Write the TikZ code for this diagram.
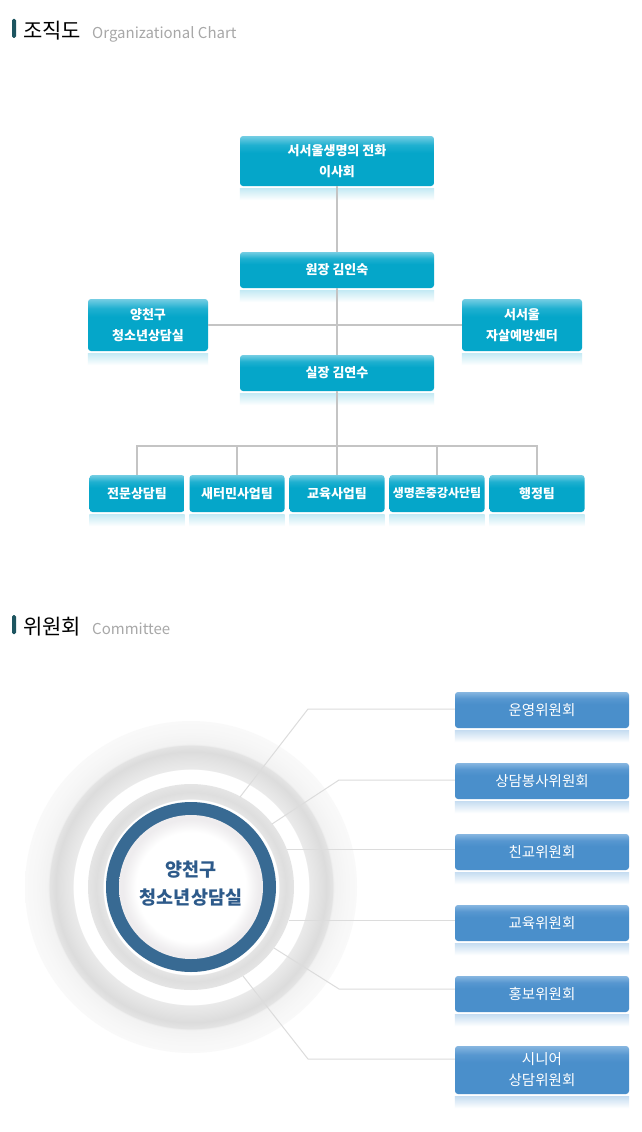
\documentclass[tikz,border=0pt]{standalone}
\usepackage{fontspec}
\setmainfont{Noto Sans CJK KR}
\usetikzlibrary{calc}
\definecolor{orgT}{HTML}{74CDE3}
\definecolor{orgM}{HTML}{1FB0D0}
\definecolor{orgB}{HTML}{05A6C9}
\definecolor{orgR}{HTML}{C4EAF4}
\definecolor{comT}{HTML}{86B6E0}
\definecolor{comM}{HTML}{5797D0}
\definecolor{comB}{HTML}{4A8FCB}
\definecolor{comR}{HTML}{C6DDF1}
\definecolor{lineC}{HTML}{C4C4C4}
\definecolor{connC}{HTML}{DCDCDC}
\definecolor{barC}{HTML}{1D5560}
\definecolor{engC}{HTML}{A8A8A8}
\definecolor{blueRing}{HTML}{386A93}
\definecolor{ctextC}{HTML}{2D5A8A}
\definecolor{gA}{HTML}{F9F9F9}
\definecolor{gB}{HTML}{F7F7F7}
\definecolor{gC}{HTML}{F2F2F2}
\definecolor{gD}{HTML}{E4E4E4}
\definecolor{gE}{HTML}{DCDCDC}
\definecolor{gF}{HTML}{EAEAEA}
\definecolor{gG}{HTML}{DEDEDE}
\definecolor{gH}{HTML}{E5E5E5}
\definecolor{gI}{HTML}{EEECEE}
\definecolor{gJ}{HTML}{F4F3F4}
\pgfdeclareverticalshading{orgsh}{100bp}{color(0bp)=(orgB); color(25bp)=(orgB); color(58bp)=(orgB); color(66bp)=(orgM); color(75bp)=(orgT); color(100bp)=(orgT)}
\pgfdeclareverticalshading{comsh}{100bp}{color(0bp)=(comB); color(25bp)=(comB); color(58bp)=(comB); color(66bp)=(comM); color(75bp)=(comT); color(100bp)=(comT)}
% radial shadings: 25bp = radius of the shaded circle
\pgfdeclareradialshading{outerSh}{\pgfpoint{0bp}{0bp}}{color(0bp)=(white); color(17.7bp)=(white); color(17.8bp)=(gF); color(19bp)=(gD); color(20.4bp)=(gE); color(21.35bp)=(gD); color(21.5bp)=(gC); color(23.5bp)=(gB); color(25bp)=(gA); color(50bp)=(gA)}
\pgfdeclareradialshading{midSh}{\pgfpoint{0bp}{0bp}}{color(0bp)=(white); color(21.3bp)=(white); color(21.4bp)=(gH); color(23bp)=(gG); color(25bp)=(gH); color(50bp)=(gH)}
\pgfdeclareradialshading{innerSh}{\pgfpoint{0bp}{0bp}}{color(0bp)=(white); color(19bp)=(white); color(21.8bp)=(gJ); color(23.6bp)=(gI); color(25bp)=(gI); color(50bp)=(gI)}
\tikzset{
  obox/.style={rectangle, rounded corners=3pt, draw=none, shading=orgsh, minimum width=194, minimum height=36, inner sep=0pt, align=center, text=white, font=\bfseries\fontsize{13}{21}\selectfont},
  cbox/.style={rectangle, rounded corners=3pt, draw=none, shading=comsh, minimum width=174, minimum height=36, inner sep=0pt, align=center, text=white, font=\fontsize{14.5}{21}\selectfont},
  orgline/.style={draw=lineC, line width=2.4pt},
  conn/.style={draw=connC, line width=1pt},
  htitle/.style={anchor=base west, inner sep=0pt, text=black, font=\fontsize{21}{21}\selectfont},
  hsub/.style={anchor=base west, inner sep=0pt, text=engC, font=\fontsize{15}{15}\selectfont},
  ctext/.style={align=center, inner sep=0pt, text=ctextC, font=\bfseries\fontsize{18.5}{28}\selectfont}
}
\begin{document}
\begin{tikzpicture}[x=1pt,y=-1pt]
\useasboundingbox[fill=white] (0,0) rectangle (641,1132);

% ---------- headers ----------
\fill[barC, rounded corners=1.5pt] (12,19) rectangle (16,38);
\node[htitle] (h1) at (23,38.5) {조직도};
\node[hsub] (h1e) at (92,38.5) {Organizational Chart};
\fill[barC, rounded corners=1.5pt] (12,615) rectangle (16,634);
\node[htitle] (h2) at (23,634.5) {위원회};
\node[hsub] (h2e) at (92,634) {Committee};

% ---------- organizational chart ----------
\node[obox, minimum height=50] (board) at (337,161) {서서울생명의 전화\\이사회};
\node[obox] (head) at (337,270) {원장 김인숙};
\node[obox, minimum width=120, minimum height=52] (left) at (148,325) {양천구\\청소년상담실};
\node[obox, minimum width=120, minimum height=52] (right) at (522,325) {서서울\\자살예방센터};
\node[obox] (sil) at (337,373) {실장 김연수};
\node[obox, minimum width=95, minimum height=37] (t1) at (137,493.5) {전문상담팀};
\node[obox, minimum width=95, minimum height=37] (t2) at (237,493.5) {새터민사업팀};
\node[obox, minimum width=95, minimum height=37] (t3) at (337,493.5) {교육사업팀};
\node[obox, minimum width=95, minimum height=37, font=\bfseries\fontsize{12}{21}\selectfont] (t4) at (437,493.5) {생명존중강사단팀};
\node[obox, minimum width=95, minimum height=37] (t5) at (537,493.5) {행정팀};

\foreach \n in {board,head,left,right,sil,t1,t2,t3,t4,t5}
  \shade[top color=orgR, bottom color=white] ([yshift=-2pt]\n.south west) rectangle ([yshift=-14pt]\n.south east);

\coordinate (bj) at (337,446);
\draw[orgline] (board.south) -- (head.north);
\draw[orgline] (head.south) -- (sil.north);
\draw[orgline] (left.east) -- (right.west);
\draw[orgline] (sil.south) -- (bj);
\draw[orgline] (t1.north) -- (t1.north |- bj) -- (t5.north |- bj) -- (t5.north);
\draw[orgline] (t2.north) -- (t2.north |- bj);
\draw[orgline] (t3.north) -- (bj);
\draw[orgline] (t4.north) -- (t4.north |- bj);

% ---------- committee ----------
\coordinate (cc) at (191,887);
\shade[shading=outerSh] (cc) circle (166pt);
\shade[shading=midSh] (cc) circle (103pt);
\fill[blueRing] (cc) circle (85pt);
\shade[shading=innerSh] (cc) circle (72pt);
\node[ctext] (center) at (191,884) {양천구\\청소년상담실};

\node[cbox] (c1) at (542,710) {운영위원회};
\node[cbox] (c2) at (542,781) {상담봉사위원회};
\node[cbox] (c3) at (542,852) {친교위원회};
\node[cbox] (c4) at (542,923) {교육위원회};
\node[cbox] (c5) at (542,994) {홍보위원회};
\node[cbox, minimum height=48] (c6) at (542,1070) {시니어\\상담위원회};

\foreach \n in {c1,c2,c3,c4,c5,c6}
  \shade[top color=comR, bottom color=white] ([yshift=-2pt]\n.south west) rectangle ([yshift=-14pt]\n.south east);

\coordinate (e1) at (240,797);  \coordinate (k1) at (308,709);
\coordinate (e2) at (272,824);  \coordinate (k2) at (339,780);
\coordinate (e3) at (287,849);
\coordinate (e4) at (289,920);
\coordinate (e5) at (274,948);  \coordinate (k5) at (339,989);
\coordinate (e6) at (243,976);  \coordinate (k6) at (308,1059);
\draw[conn] (e1) -- (k1) -- (k1 -| c1.west);
\draw[conn] (e2) -- (k2) -- (k2 -| c2.west);
\draw[conn] (e3) -- (e3 -| c3.west);
\draw[conn] (e4) -- (e4 -| c4.west);
\draw[conn] (e5) -- (k5) -- (k5 -| c5.west);
\draw[conn] (e6) -- (k6) -- (k6 -| c6.west);
\end{tikzpicture}
\end{document}
